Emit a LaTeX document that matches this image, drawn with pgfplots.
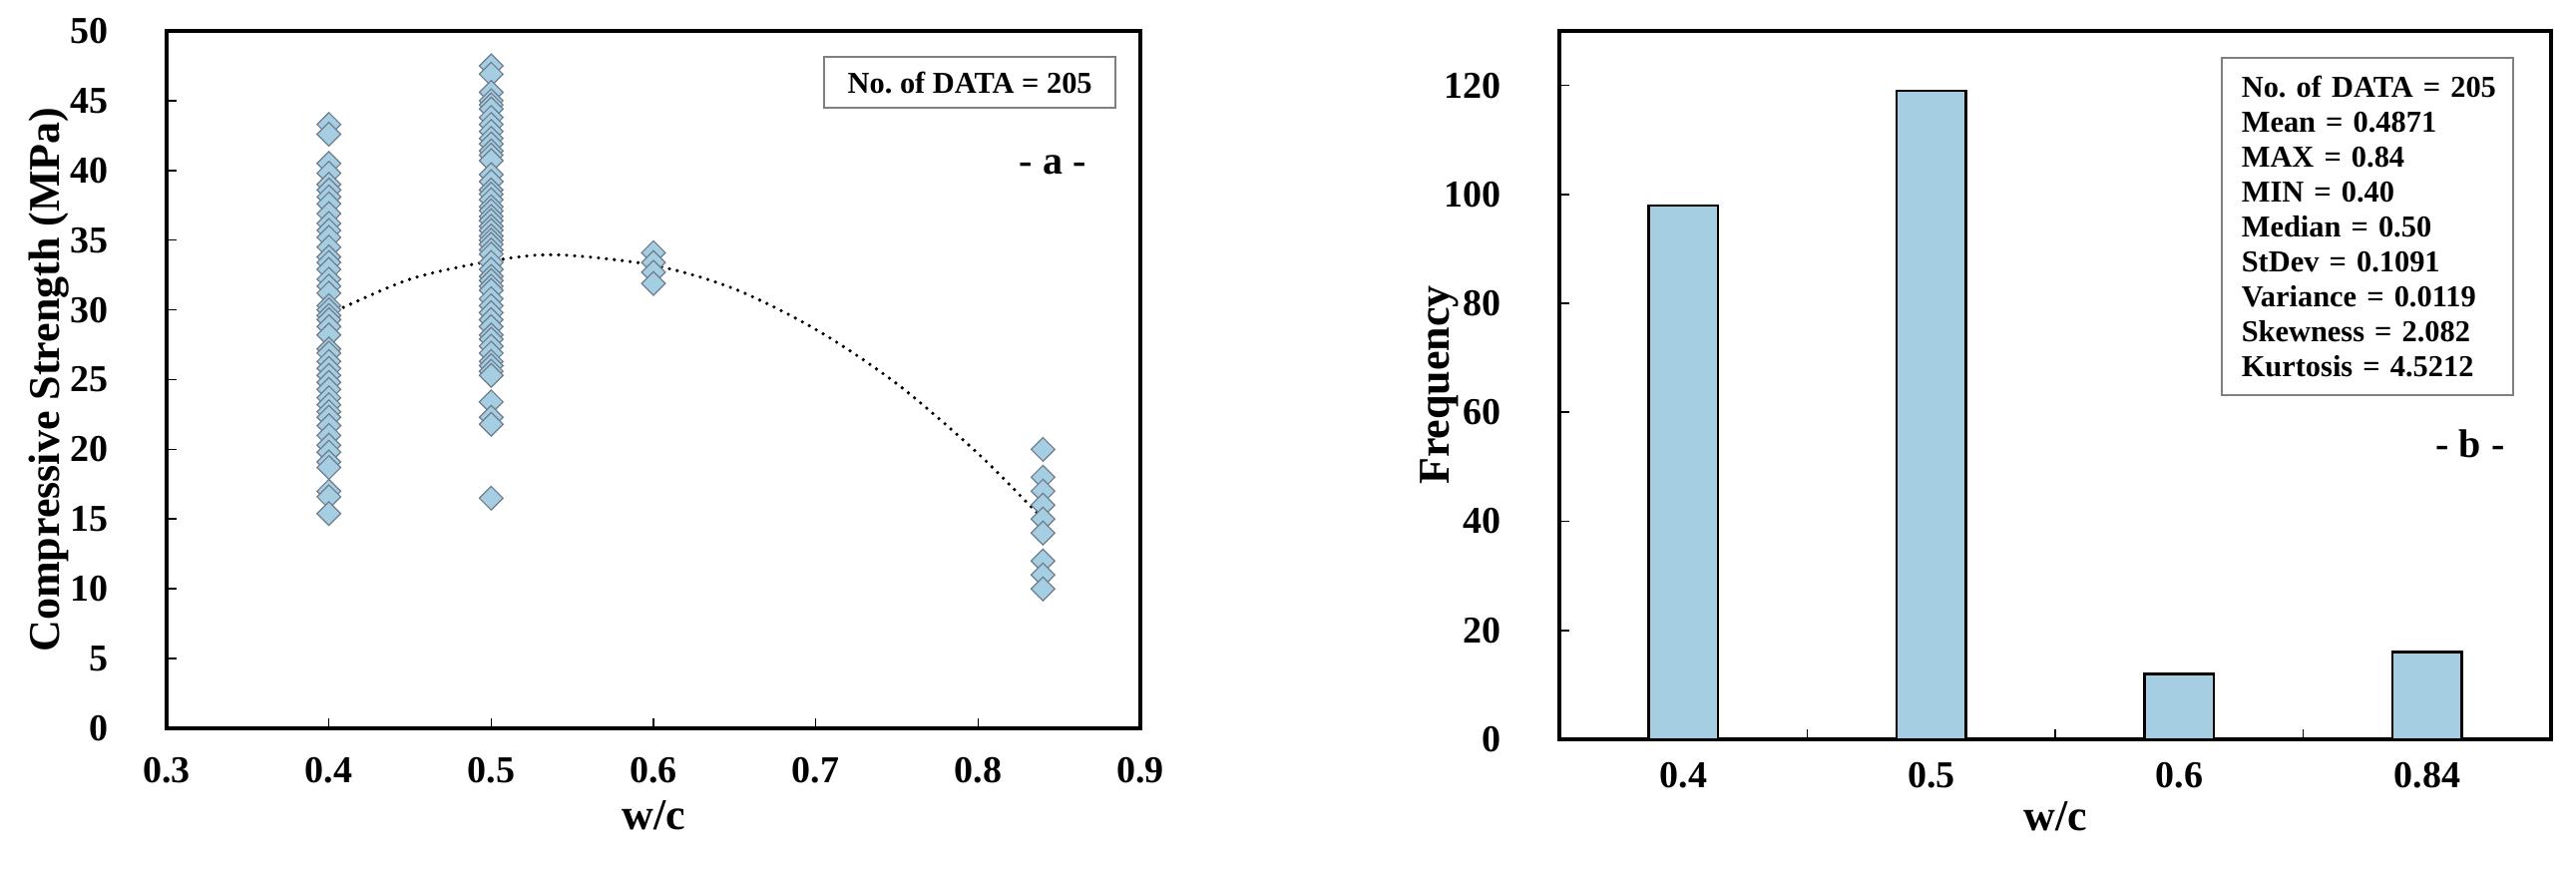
\documentclass[border=0pt]{standalone}
\usepackage{pgfplots}
\pgfplotsset{compat=1.18}
\usepackage{pgfplotstable}
\usepackage{fontspec}
\setmainfont{Liberation Serif}
\frenchspacing

\definecolor{dotblue}{RGB}{166,206,227}
\definecolor{edgegray}{RGB}{110,125,140}

% compressive strength vs w/c
\pgfplotstableread{
x y
0.40 43.3
0.40 42.6
0.40 40.5
0.40 39.8
0.40 39.0
0.40 38.6
0.40 38.1
0.40 37.6
0.40 36.9
0.40 36.2
0.40 35.7
0.40 35.2
0.40 34.5
0.40 33.8
0.40 33.4
0.40 32.9
0.40 32.2
0.40 31.7
0.40 31.2
0.40 30.3
0.40 30.0
0.40 29.6
0.40 29.3
0.40 28.8
0.40 28.2
0.40 27.2
0.40 26.9
0.40 26.3
0.40 25.8
0.40 25.3
0.40 24.8
0.40 24.3
0.40 23.7
0.40 23.2
0.40 22.7
0.40 22.3
0.40 21.7
0.40 21.0
0.40 20.3
0.40 19.8
0.40 19.1
0.40 18.7
0.40 17.0
0.40 16.6
0.40 15.4
0.50 47.5
0.50 46.9
0.50 45.6
0.50 45.0
0.50 44.7
0.50 44.4
0.50 43.8
0.50 43.3
0.50 42.8
0.50 42.3
0.50 41.9
0.50 41.4
0.50 41.1
0.50 40.7
0.50 39.7
0.50 39.2
0.50 38.6
0.50 38.3
0.50 37.9
0.50 37.4
0.50 37.1
0.50 36.7
0.50 36.4
0.50 36.0
0.50 35.7
0.50 35.3
0.50 35.0
0.50 34.7
0.50 34.3
0.50 34.0
0.50 33.4
0.50 32.9
0.50 32.4
0.50 32.1
0.50 31.7
0.50 31.4
0.50 30.8
0.50 30.3
0.50 29.8
0.50 29.3
0.50 28.8
0.50 28.2
0.50 27.9
0.50 27.4
0.50 26.9
0.50 26.3
0.50 26.0
0.50 25.6
0.50 25.3
0.50 23.4
0.50 22.3
0.50 21.8
0.50 16.5
0.60 34.1
0.60 33.4
0.60 32.7
0.60 31.9
0.84 20.0
0.84 18.0
0.84 17.0
0.84 16.0
0.84 15.0
0.84 14.0
0.84 12.0
0.84 11.0
0.84 10.0
}\strength

% trend line
\pgfplotstableread{
x y
0.40 29.7
0.45 32.2
0.50 33.5
0.54 33.95
0.60 33.2
0.65 31.5
0.70 28.6
0.75 24.7
0.80 19.7
0.84 15.0
}\trend

\pgfplotstableread{
pos freq
0 98
1 119
2 12
3 16
}\freq

\pgfplotsset{
  myaxis/.style={
    scale only axis,
    anchor=south west,
    axis line style={line width=1pt},
    tick align=inside,
    tick pos=left,
    major tick length=2.5pt,
    minor tick length=2.5pt,
    every tick/.style={black, line width=0.4pt},
    /pgf/number format/assume math mode=true,
    tick label style={font=\bfseries\fontsize{9.5}{11}\selectfont},
    yticklabel style={xshift=-11pt},
  }
}

\begin{document}
\begin{tikzpicture}
\path[use as bounding box] (0,0) rectangle (645.5pt,218.75pt);

\begin{axis}[
  myaxis,
  at={(41.75pt,36.25pt)},
  width=244pt, height=174.75pt,
  xmin=0.3, xmax=0.9, ymin=0, ymax=50,
  xtick={0.3,0.4,...,0.9},
  ytick={0,5,...,50},
  xticklabel style={yshift=-3.8pt},
  xlabel={w/c},
  ylabel={Compressive Strength (MPa)},
  every axis x label/.style={at={(axis description cs:0.5,-0.1245)}, anchor=center,
    font=\bfseries\fontsize{11}{13}\selectfont},
  every axis y label/.style={at={(axis description cs:-0.121,0.5)}, rotate=90, anchor=center,
    font=\bfseries\fontsize{11}{13}\selectfont},
]
  \addplot[only marks, mark=square*, mark size=2.1pt,
    mark options={rotate=45, fill=dotblue, draw=edgegray, line width=0.3pt}]
    table[x=x, y=y] {\strength};
  \addplot[black, line width=0.9pt, line cap=round, dash pattern=on 0pt off 2pt, smooth]
    table[x=x, y=y] {\trend};
  \node[draw=gray, fill=white, line width=0.4pt, minimum width=73pt, minimum height=12.75pt,
    font=\bfseries\fontsize{7.6}{9}\selectfont] at (axis cs:0.795,46.3) {No. of DATA = 205};
  \node[font=\bfseries\fontsize{10}{12}\selectfont] at (axis cs:0.846,40.4) {- a -};
\end{axis}

\begin{axis}[
  myaxis,
  at={(390.75pt,33.5pt)},
  width=248.5pt, height=177.5pt,
  xmin=-0.5, xmax=3.5, ymin=0, ymax=130,
  xtick={0,1,2,3},
  xticklabels={0.4,0.5,0.6,0.84},
  major x tick style={draw=none},
  minor xtick={0.5,1.5,2.5},
  ytick={0,20,...,120},
  xticklabel style={yshift=-2.4pt},
  xlabel={w/c},
  ylabel={Frequency},
  every axis x label/.style={at={(axis description cs:0.5,-0.1085)}, anchor=center,
    font=\bfseries\fontsize{11}{13}\selectfont},
  every axis y label/.style={at={(axis description cs:-0.121,0.5)}, rotate=90, anchor=center,
    font=\bfseries\fontsize{11}{13}\selectfont},
]
  \addplot[ybar, bar width=0.28, fill=dotblue, draw=black, line width=0.6pt]
    table[x=pos, y=freq] {\freq};
  \node[draw=gray, fill=white, line width=0.4pt, anchor=north west,
    minimum width=73pt, minimum height=84.5pt, text width=68pt, inner xsep=2.5pt, align=left,
    font=\bfseries\fontsize{7.6}{8.76}\selectfont] at (axis cs:2.168,125.2)
    {\hspace*{2.5pt}No. of DATA = 205\\ \hspace*{2.5pt}Mean = 0.4871\\ \hspace*{2.5pt}MAX = 0.84\\
     \hspace*{2.5pt}MIN = 0.40\\ \hspace*{2.5pt}Median = 0.50\\ \hspace*{2.5pt}StDev = 0.1091\\
     \hspace*{2.5pt}Variance = 0.0119\\ \hspace*{2.5pt}Skewness = 2.082\\ \hspace*{2.5pt}Kurtosis = 4.5212};
  \node[font=\bfseries\fontsize{10}{12}\selectfont] at (axis cs:3.174,54.3) {- b -};
\end{axis}
\end{tikzpicture}
\end{document}
